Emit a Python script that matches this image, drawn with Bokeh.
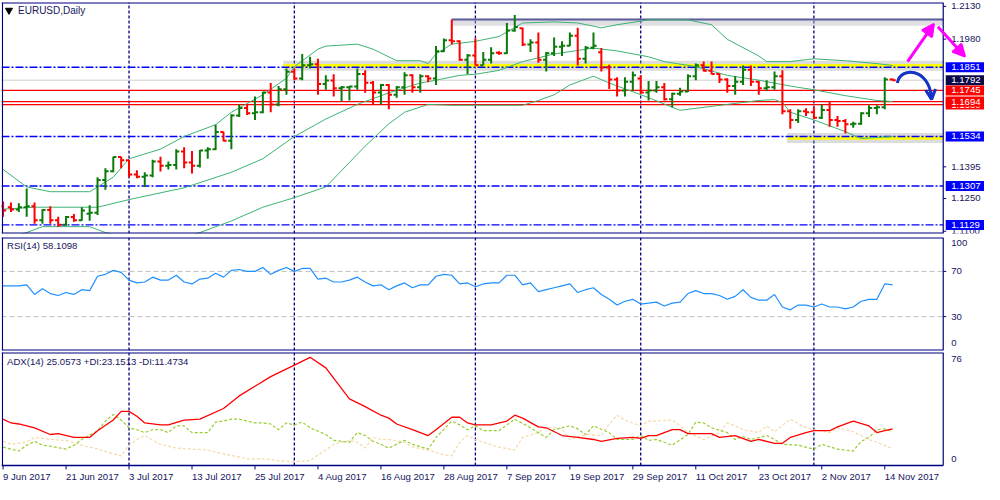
from bokeh.plotting import figure
from bokeh.models import Range1d, Span, Label, Arrow, NormalHead, OpenHead, ColumnDataSource
from bokeh.layouts import column
from bokeh.embed import file_html
from bokeh.resources import INLINE
from bokeh.core.properties import value

# ---------------- data ----------------
date_ticks = [0, 8, 16, 24, 32, 40, 48, 56, 64, 72, 80, 88, 96, 104, 112]
date_labels = ["9 Jun 2017", "21 Jun 2017", "3 Jul 2017", "13 Jul 2017", "25 Jul 2017",
               "4 Aug 2017", "16 Aug 2017", "28 Aug 2017", "7 Sep 2017", "19 Sep 2017",
               "29 Sep 2017", "11 Oct 2017", "23 Oct 2017", "2 Nov 2017", "14 Nov 2017"]
month_starts = [16, 37, 60, 81, 103]

opens = [1.1215,1.1210,1.1200,1.1210,1.1215,1.1150,1.1197,1.1150,1.1130,1.1165,
         1.1150,1.1180,1.1185,1.1335,1.1375,1.1440,1.1425,1.1360,1.1350,1.1355,
         1.1420,1.1400,1.1403,1.1465,1.1415,1.1400,1.1470,1.1475,1.1555,1.1515,
         1.1630,1.1665,1.1640,1.1645,1.1735,1.1680,1.1750,1.1830,1.1800,1.1860,
         1.1865,1.1775,1.1790,1.1755,1.1760,1.1763,1.1820,1.1780,1.1735,1.1770,
         1.1725,1.1760,1.1815,1.1760,1.1810,1.1800,1.1925,1.1975,1.1970,1.1885,
         1.1905,1.1860,1.1885,1.1918,1.1915,1.2020,1.2030,1.1955,1.1965,1.1885,
         1.1915,1.1945,1.1950,1.1995,1.1890,1.1940,1.1920,1.1850,1.1795,1.1745,
         1.1785,1.1800,1.1735,1.1745,1.1760,1.1705,1.1730,1.1740,1.1810,1.1860,
         1.1835,1.1820,1.1795,1.1765,1.1785,1.1840,1.1785,1.1755,1.1760,1.1810,
         1.1650,1.1610,1.1650,1.1645,1.1620,1.1655,1.1610,1.1605,1.1590,1.1592,
         1.1640,1.1665,1.1668,1.1795]
highs = [1.1236,1.1232,1.1228,1.1296,1.1232,1.1201,1.1214,1.1166,1.1170,1.1179,
         1.1210,1.1219,1.1347,1.1388,1.1441,1.1441,1.1428,1.1379,1.1370,1.1428,
         1.1441,1.1419,1.1476,1.1485,1.1468,1.1472,1.1485,1.1588,1.1556,1.1636,
         1.1681,1.1681,1.1717,1.1739,1.1779,1.1765,1.1845,1.1845,1.1912,1.1899,
         1.1890,1.1814,1.1819,1.1765,1.1765,1.1845,1.1837,1.1788,1.1774,1.1774,
         1.1765,1.1828,1.1819,1.1819,1.1814,1.1948,1.1983,1.2070,1.1975,1.1912,
         1.1983,1.1921,1.1943,1.1925,1.2054,1.2090,1.2032,1.1979,1.2010,1.1921,
         1.1988,1.1970,1.2010,1.2032,1.1948,1.2010,1.1939,1.1863,1.1805,1.1805,
         1.1832,1.1814,1.1788,1.1788,1.1779,1.1734,1.1757,1.1819,1.1868,1.1877,
         1.1877,1.1823,1.1801,1.1810,1.1859,1.1859,1.1788,1.1792,1.1832,1.1837,
         1.1659,1.1659,1.1663,1.1668,1.1681,1.1694,1.1628,1.1614,1.1601,1.1645,
         1.1677,1.1677,1.1805,1.1800]
lows = [1.1166,1.1188,1.1188,1.1166,1.1134,1.1134,1.1134,1.1120,1.1125,1.1143,
        1.1148,1.1148,1.1174,1.1290,1.1370,1.1388,1.1347,1.1343,1.1303,1.1347,
        1.1374,1.1383,1.1383,1.1388,1.1365,1.1392,1.1432,1.1472,1.1512,1.1476,
        1.1623,1.1632,1.1610,1.1640,1.1645,1.1672,1.1725,1.1792,1.1792,1.1845,
        1.1725,1.1748,1.1717,1.1694,1.1699,1.1748,1.1734,1.1681,1.1681,1.1659,
        1.1712,1.1725,1.1734,1.1734,1.1783,1.1770,1.1921,1.1955,1.1881,1.1819,
        1.1859,1.1860,1.1868,1.1908,1.1912,1.2014,1.1948,1.1921,1.1872,1.1832,
        1.1903,1.1903,1.1948,1.1859,1.1868,1.1934,1.1832,1.1752,1.1717,1.1717,
        1.1745,1.1730,1.1699,1.1734,1.1699,1.1668,1.1721,1.1738,1.1792,1.1832,
        1.1819,1.1779,1.1734,1.1725,1.1770,1.1765,1.1725,1.1743,1.1748,1.1636,
        1.1570,1.1596,1.1628,1.1614,1.1614,1.1579,1.1579,1.1548,1.1574,1.1588,
        1.1623,1.1636,1.1659,1.1790]
closes = [1.1195,1.1200,1.1210,1.1215,1.1150,1.1197,1.1150,1.1130,1.1165,1.1150,
          1.1195,1.1185,1.1335,1.1375,1.1440,1.1425,1.1360,1.1350,1.1355,1.1420,
          1.1400,1.1403,1.1465,1.1415,1.1400,1.1470,1.1475,1.1555,1.1515,1.1630,
          1.1665,1.1640,1.1645,1.1735,1.1680,1.1750,1.1830,1.1800,1.1860,1.1865,
          1.1775,1.1790,1.1755,1.1760,1.1763,1.1820,1.1780,1.1735,1.1770,1.1725,
          1.1760,1.1815,1.1760,1.1810,1.1800,1.1925,1.1975,1.1970,1.1885,1.1905,
          1.1860,1.1885,1.1915,1.1915,1.2020,1.2035,1.1955,1.1965,1.1885,1.1915,
          1.1945,1.1950,1.1995,1.1890,1.1940,1.1950,1.1850,1.1795,1.1745,1.1785,
          1.1815,1.1735,1.1745,1.1760,1.1705,1.1730,1.1740,1.1810,1.1860,1.1835,
          1.1820,1.1795,1.1765,1.1785,1.1840,1.1785,1.1755,1.1760,1.1810,1.1650,
          1.1610,1.1650,1.1645,1.1620,1.1655,1.1610,1.1605,1.1590,1.1592,1.1640,
          1.1665,1.1668,1.1795,1.1792]

bb_upper_idx = [0,3,6,11,12,14,16,20,23,27,29,33,36,37,40,41,45,47,50,53,54,55,57,60,63,66,
                70,73,76,78,82,87,90,92,96,97,100,103,107,111,113]
bb_upper = [1.1383,1.1303,1.1281,1.1281,1.1303,1.1348,1.1432,1.1476,1.1534,1.1588,1.1645,
            1.1725,1.1801,1.1854,1.1934,1.1948,1.1957,1.1934,1.1881,1.1881,1.1868,1.1912,
            1.1957,1.1970,1.1992,1.2054,1.2059,1.2054,1.2032,1.2046,1.2068,1.2068,1.2046,
            1.1979,1.1903,1.1877,1.1877,1.1890,1.1881,1.1868,1.1859]
bb_mid_idx = [0,4,12,16,23,29,33,37,41,45,49,53,55,58,60,63,66,70,75,78,82,84,88,92,96,100,
              103,107,111,113]
bb_mid = [1.1201,1.1210,1.1210,1.1245,1.1299,1.1370,1.1432,1.1534,1.1614,1.1681,1.1734,
          1.1779,1.1792,1.1814,1.1819,1.1837,1.1877,1.1912,1.1939,1.1926,1.1899,1.1877,
          1.1854,1.1814,1.1792,1.1765,1.1748,1.1721,1.1699,1.1694]
bb_lower_idx = [0,3,5,11,13,15,19,23,25,29,33,37,41,46,49,51,54,57,66,68,70,72,75,77,82,85,
                86,92,96,98,99,100,103,107,109,113]
bb_lower = [1.1060,1.1094,1.1121,1.1121,1.1094,1.1075,1.1055,1.1070,1.1094,1.1147,1.1210,
            1.1254,1.1303,1.1490,1.1592,1.1645,1.1681,1.1677,1.1677,1.1699,1.1725,1.1770,
            1.1810,1.1779,1.1712,1.1668,1.1654,1.1681,1.1699,1.1703,1.1690,1.1645,1.1610,
            1.1556,1.1525,1.1534]

rsi = [57.2,57.2,57.2,58.1,49.6,54.7,50.4,48.7,51.3,49.6,53.8,53.0,65.7,67.4,70.9,69.1,
       62.3,59.8,60.6,64.9,62.3,62.3,66.6,60.6,58.9,63.2,64.0,68.3,64.9,70.9,71.7,70.0,
       70.0,73.4,67.4,70.9,73.4,70.0,72.6,72.6,63.2,64.0,
       60.6,60.6,62.3,64.9,60.6,57.2,58.1,53.8,57.2,59.8,55.5,58.1,58.1,65.7,67.4,66.6,
       58.9,59.8,56.4,58.9,59.8,59.8,66.6,66.6,58.1,59.8,52.1,53.8,55.5,57.2,58.9,51.3,
       53.8,55.5,49.6,45.3,40.2,43.6,45.3,41.1,
       41.9,42.8,39.4,41.9,42.8,50.4,53.0,50.4,50.4,48.7,45.3,47.9,53.8,47.0,44.5,44.5,
       49.6,38.5,36.0,40.2,40.2,38.5,41.1,38.5,38.5,36.8,38.5,43.6,45.3,45.3,58.9,58.1]

adx_idx = [0,1,2,4,6,7,9,11,12,14,15,16,17,18,20,21,23,25,28,30,32,34,37,39,41,44,46,48,
           49,50,52,54,55,57,58,59,60,62,64,65,66,68,69,71,73,75,76,78,80,81,82,83,85,86,
           87,90,91,93,95,96,98,99,100,102,103,105,106,108,110,111,112,113]
adx = [31.7,29.1,28.4,25.8,21.2,21.8,19.2,19.2,23.8,31.1,37.0,37.0,33.7,29.1,27.8,27.8,
       31.1,31.7,39.0,47.6,54.2,60.8,68.7,74.0,66.8,45.6,40.3,34.4,32.4,28.4,24.5,20.5,
       24.5,33.0,33.0,29.1,27.8,27.8,30.4,34.4,32.4,26.4,25.8,20.5,19.2,17.8,16.5,18.5,
       19.2,18.5,20.5,20.5,24.5,24.5,21.8,21.8,19.2,20.5,16.5,17.8,15.2,15.2,19.2,22.5,
       23.8,23.8,26.4,30.4,27.1,22.5,23.8,25.1]
pdi_idx = [0,1,2,3,4,5,6,8,9,10,12,13,14,15,16,17,18,19,20,21,22,23,24,26,27,28,29,30,32,
           33,34,35,36,37,38,39,41,42,44,45,46,47,48,49,51,52,54,55,57,58,59,60,61,63,64,
           65,67,68,69,70,72,73,74,75,77,78,80,81,82,83,85,87,88,89,90,92,93,94,95,97,98,
           99,101,103,104,106,108,109,110,111,112,113]
pdi = [12.6,11.2,9.9,13.9,16.5,13.9,13.2,11.2,13.9,17.8,23.8,30.4,35.0,31.1,25.8,24.5,
       22.5,24.5,24.5,22.5,27.1,27.1,22.5,22.5,29.7,30.4,31.7,31.7,29.1,29.1,28.4,24.5,
       29.1,27.8,29.7,25.8,21.2,17.2,15.9,22.5,20.5,16.5,14.5,11.9,17.2,14.5,11.2,19.2,
       30.4,27.8,24.5,27.1,23.8,23.8,27.8,31.7,25.8,22.5,19.2,24.5,27.1,25.1,21.2,27.1,
       22.5,17.8,17.8,20.5,17.2,17.8,13.9,21.2,29.7,29.1,25.8,22.5,17.8,19.8,17.8,20.5,
       17.8,14.5,13.9,11.2,14.5,11.2,9.9,16.5,19.2,24.5,25.1,23.2]
mdi_idx = [0,1,3,4,6,8,10,12,14,15,16,17,18,19,20,22,24,26,28,30,31,33,35,37,39,40,41,42,
           44,45,46,47,48,49,51,52,54,56,57,58,59,60,61,63,65,66,68,69,71,72,74,76,77,78,
           79,81,82,83,85,86,87,89,91,92,93,94,96,97,98,100,102,103,105,106,108,110,111,113]
mdi = [16.5,14.5,15.9,19.2,17.8,17.2,13.9,11.2,7.9,6.6,13.9,17.8,20.5,17.2,14.5,11.9,11.2,
       10.6,7.9,5.9,4.6,4.6,3.3,2.6,3.3,7.3,10.6,14.5,17.2,15.9,11.9,19.2,17.8,17.8,15.9,
       12.6,10.6,7.3,6.6,15.9,20.5,17.8,15.9,12.6,10.6,19.2,22.5,26.4,25.1,17.8,21.2,20.5,
       28.4,34.4,31.1,27.1,30.4,30.4,31.1,27.1,22.5,17.8,22.5,29.1,27.1,24.5,22.5,27.1,
       23.1,31.7,25.8,24.5,22.5,25.8,23.1,17.8,15.9,11.5]

blue_levels = [1.1851, 1.1534, 1.1307, 1.1129]
red_levels = [1.1745, 1.1694, 1.1680]
bid_level = 1.1792
yellow_levels = [1.1858, 1.1527]
yellow_starts = [35.6, 99.6]
top_line_level = 1.2070
top_line_start = 57
price_ticks = [1.1100, 1.1250, 1.1395, 1.1980, 1.2130]
box_levels = [1.1851, 1.1792, 1.1745, 1.1680, 1.1694, 1.1534, 1.1307, 1.1129]
box_colors = ["#0000ff", "#0a0a48", "#ff0000", "#ff0000", "#ff0000", "#0000ff", "#0000ff", "#0000ff"]
rsi_levels = [30, 70]
rsi_tick_pos = [94.7, 70, 30, 6.2]
rsi_tick_text = ["100", "70", "30", "0"]
adx_tick_pos = [72.7, 4.6]
adx_tick_text = ["76", "0"]
rsi_last = 58.1098
adx_last, pdi_last, mdi_last = 25.0573, 23.1513, 11.4734

# ---------------- geometry / style ----------------
PXB = 7.872                 # pixels per bar
X0 = -0.2
X_AX = 119.43               # position of the price-scale line
X_R = X0 + 983 / PXB
xr = Range1d(X0, X_R)
NAVY = "#000080"
TXT = "#16165e"
FONT = "Liberation Sans"
FS = "9.6px"
GREEN = "#0b7a0b"
RED = "#ff0000"
PRICE_RANGE = (1.10896, 1.21478)
ADX_RANGE = (-12.99, 77.3)


def base_fig(frame_h, top, bottom, yr):
    p = figure(frame_width=983, frame_height=frame_h, x_range=xr, y_range=Range1d(*yr),
               output_backend="svg", toolbar_location=None,
               x_axis_location=None, y_axis_location=None,
               min_border_left=1, min_border_right=0, min_border_top=top,
               min_border_bottom=bottom, background_fill_color="white",
               border_fill_color="white")
    p.outline_line_color = None
    p.xgrid.grid_line_color = None
    p.ygrid.grid_line_color = None
    return p


def panel_frame(p, ybot, ytop, bottom_w=2):
    # top / bottom borders, left border, price-scale line
    p.segment(x0=[X0, X0], y0=[ytop, ybot], x1=[X_AX, X_AX], y1=[ytop, ybot],
              line_color=NAVY, line_width=[2, bottom_w])
    p.segment(x0=[-0.08, X_AX], y0=[ybot, ybot], x1=[-0.08, X_AX], y1=[ytop, ytop],
              line_color=NAVY, line_width=1.2)


def separators(p, ybot, ytop):
    n = len(month_starts)
    p.segment(x0=month_starts, y0=[ybot] * n, x1=month_starts, y1=[ytop] * n,
              line_color=NAVY, line_dash="3 2", line_width=1.3)


def scale_labels(p, pos, texts, ticks=True):
    n = len(pos)
    if ticks:
        p.segment(x0=[X_AX] * n, y0=pos, x1=[X_AX + 3 / PXB] * n, y1=pos,
                  line_color=NAVY, line_width=1)
    p.text(x=[X_AX] * n, y=pos, text=texts, x_offset=8, text_color=TXT,
           text_font=value(FONT), text_font_size=value(FS), text_baseline="middle",
           text_align="left")


def hline(p, levels, **kw):
    n = len(levels)
    p.segment(x0=[X0] * n, y0=levels, x1=[X_AX] * n, y1=levels, **kw)


# ---------------- main price panel ----------------
p1 = base_fig(231, 2, 2, PRICE_RANGE)
separators(p1, *PRICE_RANGE)
hline(p1, [bid_level], line_color="#cfcfcf", line_width=1)
hline(p1, red_levels, line_color=RED, line_width=1.3)

ysrc = ColumnDataSource(dict(x0=yellow_starts, x1=[X_AX] * len(yellow_levels), y=yellow_levels))
p1.segment("x0", "y", "x1", "y", source=ysrc, line_color="#9a9a9a", line_alpha=0.35, line_width=10)
p1.segment("x0", "y", "x1", "y", source=ysrc, line_color="#ffff00", line_width=3.5)
hline(p1, blue_levels, line_color="#0000ff", line_dash="8 2 2 2", line_width=1.4)

tsrc = ColumnDataSource(dict(x0=[top_line_start], x1=[X_AX], y=[top_line_level],
                             ys=[top_line_level - 0.0013]))
p1.segment("x0", "ys", "x1", "ys", source=tsrc, line_color="#b8b8c4", line_alpha=0.45, line_width=7)
p1.segment("x0", "y", "x1", "y", source=tsrc, line_color="#5c5c9c", line_width=2)

for bx, by in [(bb_upper_idx, bb_upper), (bb_mid_idx, bb_mid), (bb_lower_idx, bb_lower)]:
    p1.line(bx, by, line_color="#3cb371", line_width=1)

idx = list(range(len(opens)))
cols = [GREEN if c >= o else RED for o, c in zip(opens, closes)]
src = ColumnDataSource(dict(x=idx, o=opens, h=highs, l=lows, c=closes, col=cols,
                            xl=[i - 0.4 for i in idx], xr=[i + 0.4 for i in idx]))
p1.segment("x", "l", "x", "h", source=src, line_color="col", line_width=2)
p1.segment("xl", "o", "x", "o", source=src, line_color="col", line_width=2)
p1.segment("x", "c", "xr", "c", source=src, line_color="col", line_width=2)

MAG = "#ff00ff"
p1.add_layout(Arrow(end=NormalHead(size=12, fill_color=MAG, line_color=MAG, line_width=2),
                    x_start=114.9, y_start=1.1877, x_end=118.25, y_end=1.2050,
                    line_color=MAG, line_width=3))
p1.add_layout(Arrow(end=NormalHead(size=12, fill_color=MAG, line_color=MAG, line_width=2),
                    x_start=118.75, y_start=1.2037, x_end=122.2, y_end=1.1900,
                    line_color=MAG, line_width=3))
BLU = "#1232c8"
p1.bezier(x0=[113.6], y0=[1.1779], x1=[117.9], y1=[1.1718], cx0=[114.0], cy0=[1.1858],
          cx1=[117.6], cy1=[1.1845], line_color=BLU, line_width=3)
p1.add_layout(Arrow(end=OpenHead(size=10, line_color=BLU, line_width=3),
                    x_start=117.85, y_start=1.1740, x_end=117.95, y_end=1.1704,
                    line_color=BLU, line_width=3))

panel_frame(p1, *PRICE_RANGE)
scale_labels(p1, price_ticks, ["%.4f" % t for t in price_ticks])
for lv, bc in zip(box_levels, box_colors):
    p1.rect(x=[X_AX + 22.5 / PXB], y=[lv], width=40, height=10, width_units="screen",
            height_units="screen", fill_color=bc, line_color=None)
    p1.text(x=[X_AX], y=[lv], text=["%.4f" % lv], x_offset=8, text_color="white",
            text_font=value(FONT), text_font_size=value(FS), text_baseline="middle",
            text_align="left")

p1.scatter(x=[0.75], y=[1.2112], marker="inverted_triangle", size=7, color="black")
p1.add_layout(Label(x=1.9, y=1.2110, text="EURUSD,Daily", text_color=TXT, text_font=FONT,
                    text_font_size="10px", text_baseline="middle", text_align="left"))

# ---------------- RSI panel ----------------
p2 = base_fig(113, 2, 1, (0, 100))
separators(p2, 0, 100)
hline(p2, rsi_levels, line_color="#c0c0c0", line_dash="5 3", line_width=1)
p2.line(idx, rsi, line_color="#1e90ff", line_width=1.2)
panel_frame(p2, 0, 100)
scale_labels(p2, rsi_tick_pos, rsi_tick_text, ticks=False)
p2.segment(x0=[X_AX] * 2, y0=rsi_levels, x1=[X_AX + 3 / PXB] * 2, y1=rsi_levels,
           line_color=NAVY, line_width=1)
p2.add_layout(Label(x=0.5, y=93, text="RSI(14) %.4f" % rsi_last, text_color=TXT,
                    text_font=FONT, text_font_size=FS, text_baseline="middle", text_align="left"))

# ---------------- ADX panel + time scale ----------------
p3 = base_fig(132, 1, 0, ADX_RANGE)
separators(p3, 0, ADX_RANGE[1])
p3.line(mdi_idx, mdi, line_color="#f5d9aa", line_dash="3 2", line_width=1.2)
p3.line(pdi_idx, pdi, line_color="#9acd32", line_dash="3 2", line_width=1.2)
p3.line(adx_idx, adx, line_color="#ff0000", line_width=1.3)
panel_frame(p3, 0, ADX_RANGE[1], bottom_w=1.3)
scale_labels(p3, adx_tick_pos, adx_tick_text, ticks=False)
nt = len(date_ticks)
p3.segment(x0=date_ticks, y0=[0] * nt, x1=date_ticks, y1=[-2.7] * nt,
           line_color=NAVY, line_width=1)
p3.text(x=date_ticks, y=[-7.3] * nt, text=date_labels, text_color=TXT,
        text_font=value(FONT), text_font_size=value(FS), text_baseline="middle",
        text_align="left")
p3.add_layout(Label(x=0.5, y=71.4,
                    text="ADX(14) %.4f +DI:%.4f -DI:%.4f" % (adx_last, pdi_last, mdi_last),
                    text_color=TXT, text_font=FONT, text_font_size=FS,
                    text_baseline="middle", text_align="left"))

layout = column(p1, p2, p3, spacing=0)
open("out.html", "w").write(file_html(layout, INLINE))
